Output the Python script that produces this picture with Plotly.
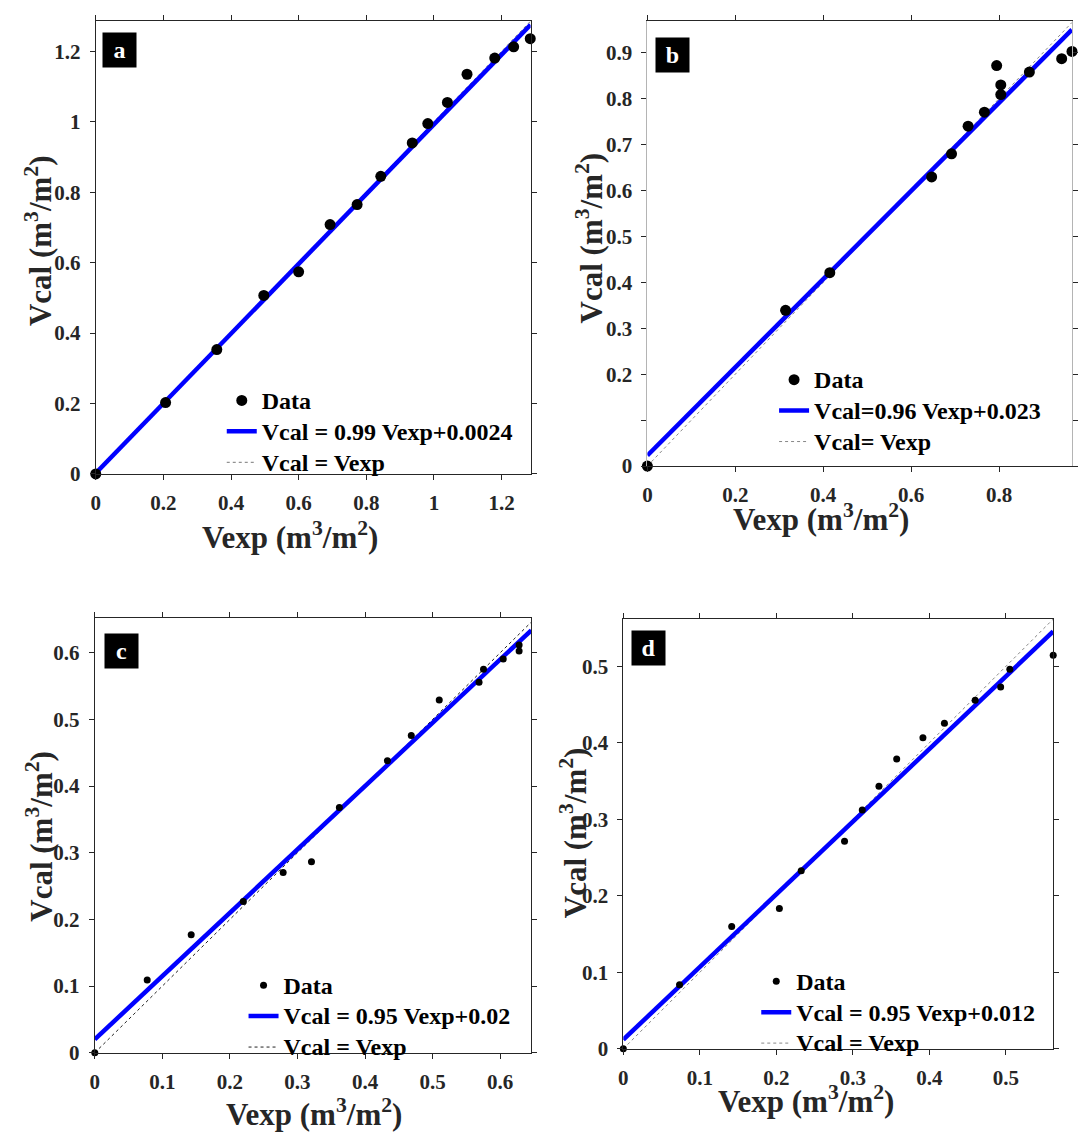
import plotly.graph_objects as go

W, H = 1078, 1134

# ---------------- data ----------------
a_vexp = [0, 0.2065, 0.358, 0.497, 0.600, 0.693, 0.773, 0.843, 0.936, 0.982, 1.040, 1.098, 1.180, 1.236, 1.285]
a_vcal = [0, 0.2025, 0.353, 0.507, 0.574, 0.708, 0.765, 0.845, 0.940, 0.995, 1.055, 1.135, 1.181, 1.213, 1.236]
a_slope, a_icpt = 0.99, 0.0024

b_vexp = [0, 0.3144, 0.415, 0.6467, 0.692, 0.7296, 0.7667, 0.7946, 0.804, 0.804, 0.869, 0.9425, 0.966]
b_vcal = [0, 0.339, 0.421, 0.6295, 0.680, 0.740, 0.7705, 0.872, 0.830, 0.809, 0.858, 0.887, 0.903]
b_slope, b_icpt = 0.96, 0.023

c_vexp = [0, 0.0776, 0.1427, 0.2198, 0.2788, 0.3207, 0.362, 0.4331, 0.4684, 0.5098, 0.5687, 0.5753, 0.6045, 0.628, 0.628, 0.6464]
c_vcal = [0, 0.109, 0.177, 0.227, 0.2703, 0.2864, 0.368, 0.438, 0.476, 0.529, 0.5558, 0.5754, 0.5905, 0.6116, 0.6025, 0.6186]
c_slope, c_icpt = 0.95, 0.02

d_vexp = [0, 0.0735, 0.1417, 0.204, 0.2326, 0.2892, 0.3124, 0.3342, 0.3574, 0.3917, 0.4198, 0.46, 0.4933, 0.5053, 0.562]
d_vcal = [0, 0.0838, 0.1598, 0.1836, 0.233, 0.2714, 0.3124, 0.3433, 0.379, 0.4069, 0.4259, 0.4559, 0.4731, 0.4965, 0.5146]
d_slope, d_icpt = 0.95, 0.012

labels = ["a", "b", "c", "d"]
fit_names = ["Vcal = 0.99 Vexp+0.0024", "Vcal=0.96 Vexp+0.023",
             "Vcal = 0.95 Vexp+0.02", "Vcal = 0.95 Vexp+0.012"]
ident_names = ["Vcal = Vexp", "Vcal= Vexp", "Vcal = Vexp", "Vcal = Vexp"]

a_ticks = [0, 0.2, 0.4, 0.6, 0.8, 1.0, 1.2]
a_ticktext = ["0", "0.2", "0.4", "0.6", "0.8", "1", "1.2"]
b_xticks = [0, 0.2, 0.4, 0.6, 0.8]
b_xticktext = ["0", "0.2", "0.4", "0.6", "0.8"]
b_yticks = [0, 0.1, 0.2, 0.3, 0.4, 0.5, 0.6, 0.7, 0.8, 0.9]
b_yticktext = ["0", "", "0.2", "0.3", "0.4", "0.5", "0.6", "0.7", "0.8", "0.9"]
c_ticks = [0, 0.1, 0.2, 0.3, 0.4, 0.5, 0.6]
c_ticktext = ["0", "0.1", "0.2", "0.3", "0.4", "0.5", "0.6"]
d_ticks = [0, 0.1, 0.2, 0.3, 0.4, 0.5]
d_ticktext = ["0", "0.1", "0.2", "0.3", "0.4", "0.5"]

# ---------------- layout geometry (pixels) ----------------
def fx(px):
    return px / W

def fy(py):
    return 1 - py / H

panels = [
    dict(x=a_vexp, y=a_vcal, s=a_slope, b=a_icpt, xr=1.286, yr=1.286,
         xt=a_ticks, xtt=a_ticktext, yt=a_ticks, ytt=a_ticktext,
         box=(91.7, 531.0, 21.3, 479.0), msize=11, dotc="#777777", ylinec="#262626",
         leg=(219, 384), lab=(115.7, 50.8), xtitle=(288, 541), ytitle=(34, 243)),
    dict(x=b_vexp, y=b_vcal, s=b_slope, b=b_icpt, xr=0.966, yr=0.969,
         xt=b_xticks, xtt=b_xticktext, yt=b_yticks, ytt=b_yticktext,
         box=(649.0, 1078.0, 21.3, 471.0), msize=11, dotc="#888888", ylinec="#b4b4b4",
         leg=(777, 363), lab=(674.2, 56.0), xtitle=(824, 523), ytitle=(590, 240)),
    dict(x=c_vexp, y=c_vcal, s=c_slope, b=c_icpt, xr=0.646, yr=0.652,
         xt=c_ticks, xtt=c_ticktext, yt=c_ticks, ytt=c_ticktext,
         box=(90.7, 531.7, 624.7, 1064.0), msize=7, dotc="#222222", ylinec="#262626",
         leg=(241, 975), lab=(117.2, 658.3), xtitle=(312, 1124), ytitle=(34, 845)),
    dict(x=d_vexp, y=d_vcal, s=d_slope, b=d_icpt, xr=0.562, yr=0.562,
         xt=d_ticks, xtt=d_ticktext, yt=d_ticks, ytt=d_ticktext,
         box=(624.7, 1059.0, 625.7, 1060.0), msize=7, dotc="#888888", ylinec="#262626",
         leg=(759, 971), lab=(650.5, 655.2), xtitle=(809, 1111), ytitle=(574, 842)),
]

FONT = "Liberation Serif"


def big(t):
    return '<span style="font-size:24px">' + t + '</span>'


fig = go.Figure()
layout = dict(
    width=W, height=H, margin=dict(l=0, r=0, t=0, b=0),
    paper_bgcolor="white", plot_bgcolor="white", showlegend=True,
)
annotations = []

for i, p in enumerate(panels):
    k = "" if i == 0 else str(i + 1)
    xa, ya = "x" + k, "y" + k
    leg = "legend" + k
    l, r, t, b = p["box"]
    # identity line
    fig.add_trace(go.Scatter(
        x=[0, p["xr"]], y=[0, p["xr"]], mode="lines", name=big(ident_names[i]),
        line=dict(color=p["dotc"], width=1, dash="dot"),
        xaxis=xa, yaxis=ya, legend=leg, legendrank=3, hoverinfo="skip"))
    # fit line
    fx0, fx1 = 0, p["xr"]
    fig.add_trace(go.Scatter(
        x=[fx0, fx1], y=[p["s"] * fx0 + p["b"], p["s"] * fx1 + p["b"]],
        mode="lines", name=big(fit_names[i]),
        line=dict(color="#0000ff", width=4.5),
        xaxis=xa, yaxis=ya, legend=leg, legendrank=2))
    # data
    fig.add_trace(go.Scatter(
        x=p["x"], y=p["y"], mode="markers", name=big("Data"),
        marker=dict(color="black", size=p["msize"]), cliponaxis=False,
        xaxis=xa, yaxis=ya, legend=leg, legendrank=1))

    axcommon = dict(showline=True, linecolor="#262626", linewidth=1, mirror="ticks",
                    ticks="outside", ticklen=5, tickcolor="#262626", tickwidth=1,
                    showgrid=False, zeroline=False, ticklabelstandoff=5,
                    tickfont=dict(family=FONT, size=21, color="#262626", weight="bold"))
    layout["xaxis" + k] = dict(axcommon, domain=[fx(l), fx(r)], range=[0, p["xr"]],
                               tickmode="array", tickvals=p["xt"], ticktext=p["xtt"],
                               anchor=ya)
    ya_d = dict(axcommon, domain=[fy(b), fy(t)], range=[0, p["yr"]],
                tickmode="array", tickvals=p["yt"], ticktext=p["ytt"], anchor=xa)
    ya_d["linecolor"] = p["ylinec"]
    layout["yaxis" + k] = ya_d
    layout[leg] = dict(x=fx(p["leg"][0]), y=fy(p["leg"][1]), xanchor="left", yanchor="top",
                       bgcolor="rgba(0,0,0,0)", borderwidth=0, tracegroupgap=0,
                       font=dict(family=FONT, size=21.5, color="black", weight="bold"))
    # panel label box
    annotations.append(dict(
        x=fx(p["lab"][0]), y=fy(p["lab"][1]), xref="paper", yref="paper",
        text="<b>" + labels[i] + "</b>", showarrow=False, bgcolor="black",
        width=33, height=34, borderpad=0, xanchor="center", yanchor="middle",
        font=dict(family=FONT, size=24, color="white")))
    # axis titles
    annotations.append(dict(
        x=fx(p["xtitle"][0]), y=fy(p["xtitle"][1]), xref="paper", yref="paper",
        text="Vexp (m<sup>3</sup>/m<sup>2</sup>)", showarrow=False,
        xanchor="center", yanchor="middle",
        font=dict(family=FONT, size=31, color="#262626", weight="bold")))
    annotations.append(dict(
        x=fx(p["ytitle"][0]), y=fy(p["ytitle"][1]), xref="paper", yref="paper",
        text="Vcal (m<sup>3</sup>/m<sup>2</sup>)", showarrow=False, textangle=-90,
        xanchor="center", yanchor="middle",
        font=dict(family=FONT, size=31, color="#262626", weight="bold")))

layout["annotations"] = annotations
fig.update_layout(**layout)
fig.write_html("out.html")
